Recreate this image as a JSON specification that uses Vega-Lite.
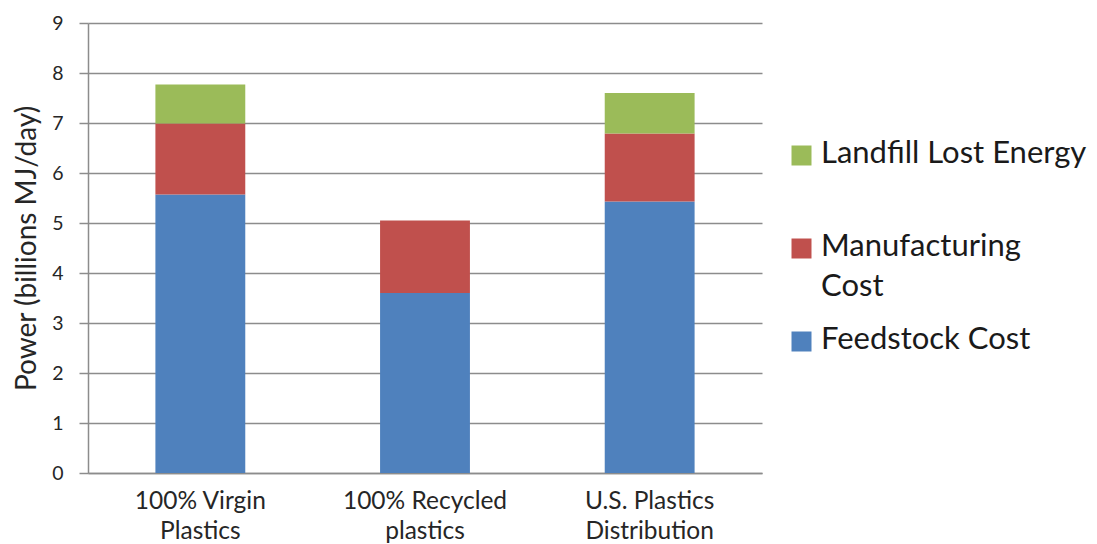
{
  "$schema": "https://vega.github.io/schema/vega-lite/v6.json",
  "autosize": "none",
  "width": 674,
  "height": 450,
  "padding": {"left": 88, "top": 23, "right": 335, "bottom": 71},
  "background": "white",
  "data": {
    "values": [
      {"scenario": "100% Virgin Plastics", "component": "Feedstock Cost", "rank": 1, "power": 5.57},
      {"scenario": "100% Virgin Plastics", "component": "Manufacturing Cost", "rank": 2, "power": 1.42},
      {"scenario": "100% Virgin Plastics", "component": "Landfill Lost Energy", "rank": 3, "power": 0.78},
      {"scenario": "100% Recycled plastics", "component": "Feedstock Cost", "rank": 1, "power": 3.6},
      {"scenario": "100% Recycled plastics", "component": "Manufacturing Cost", "rank": 2, "power": 1.45},
      {"scenario": "U.S. Plastics Distribution", "component": "Feedstock Cost", "rank": 1, "power": 5.43},
      {"scenario": "U.S. Plastics Distribution", "component": "Manufacturing Cost", "rank": 2, "power": 1.36},
      {"scenario": "U.S. Plastics Distribution", "component": "Landfill Lost Energy", "rank": 3, "power": 0.81}
    ]
  },
  "mark": {"type": "bar"},
  "encoding": {
    "x": {
      "field": "scenario",
      "type": "nominal",
      "sort": ["100% Virgin Plastics", "100% Recycled plastics", "U.S. Plastics Distribution"],
      "scale": {"paddingInner": 0.6, "paddingOuter": 0.3},
      "axis": {
        "title": null,
        "labelAngle": 0,
        "ticks": false,
        "domainColor": "#8c8c8c",
        "domainWidth": 1.5,
        "labelFont": "Lato",
        "labelFontSize": 24.5,
        "labelColor": "#262626",
        "labelPadding": 16,
        "labelLineHeight": 30,
        "labelExpr": "datum.value == '100% Virgin Plastics' ? ['100% Virgin', 'Plastics'] : datum.value == '100% Recycled plastics' ? ['100% Recycled', 'plastics'] : ['U.S. Plastics', 'Distribution']"
      }
    },
    "y": {
      "field": "power",
      "type": "quantitative",
      "stack": "zero",
      "scale": {"domain": [0, 9], "nice": false},
      "axis": {
        "title": "Power (billions  MJ/day)",
        "titleFont": "Lato",
        "titleFontSize": 28,
        "titleFontWeight": "normal",
        "titleColor": "#262626",
        "titleX": -61,
        "titleAlign": "center",
        "titleBaseline": "middle",
        "titleAngle": 270,
        "values": [0, 1, 2, 3, 4, 5, 6, 7, 8, 9],
        "grid": true,
        "gridColor": "#8c8c8c",
        "gridWidth": 1.5,
        "domainColor": "#8c8c8c",
        "domainWidth": 1.5,
        "tickColor": "#8c8c8c",
        "tickWidth": 1.5,
        "tickSize": 9,
        "labelFont": "Lato",
        "labelFontSize": 19.5,
        "labelColor": "#262626",
        "labelPadding": 16
      }
    },
    "color": {
      "field": "component",
      "type": "nominal",
      "scale": {
        "domain": ["Landfill Lost Energy", "Manufacturing Cost", "Feedstock Cost"],
        "range": ["#9bbb59", "#c0504d", "#4f81bd"]
      },
      "legend": {
        "title": null,
        "orient": "none",
        "legendX": 698,
        "legendY": 117,
        "padding": 0,
        "symbolType": "square",
        "symbolSize": 400,
        "symbolStrokeWidth": 0,
        "symbolOpacity": 1,
        "labelFont": "Lato",
        "labelFontSize": 31,
        "labelColor": "#1a1a1a",
        "labelOffset": 4,
        "labelLimit": 400,
        "labelBaseline": "top",
        "rowPadding": 21,
        "labelExpr": "datum.label == 'Manufacturing Cost' ? ['Manufacturing', 'Cost'] : datum.label == 'Landfill Lost Energy' ? ['Landfill Lost Energy', ' '] : datum.label",
        "encoding": {
          "labels": {"dy": {"value": -17}, "lineHeight": {"value": 40}}
        }
      }
    },
    "order": {"field": "rank", "type": "quantitative"}
  },
  "config": {
    "view": {"stroke": null},
    "font": "Lato"
  }
}
